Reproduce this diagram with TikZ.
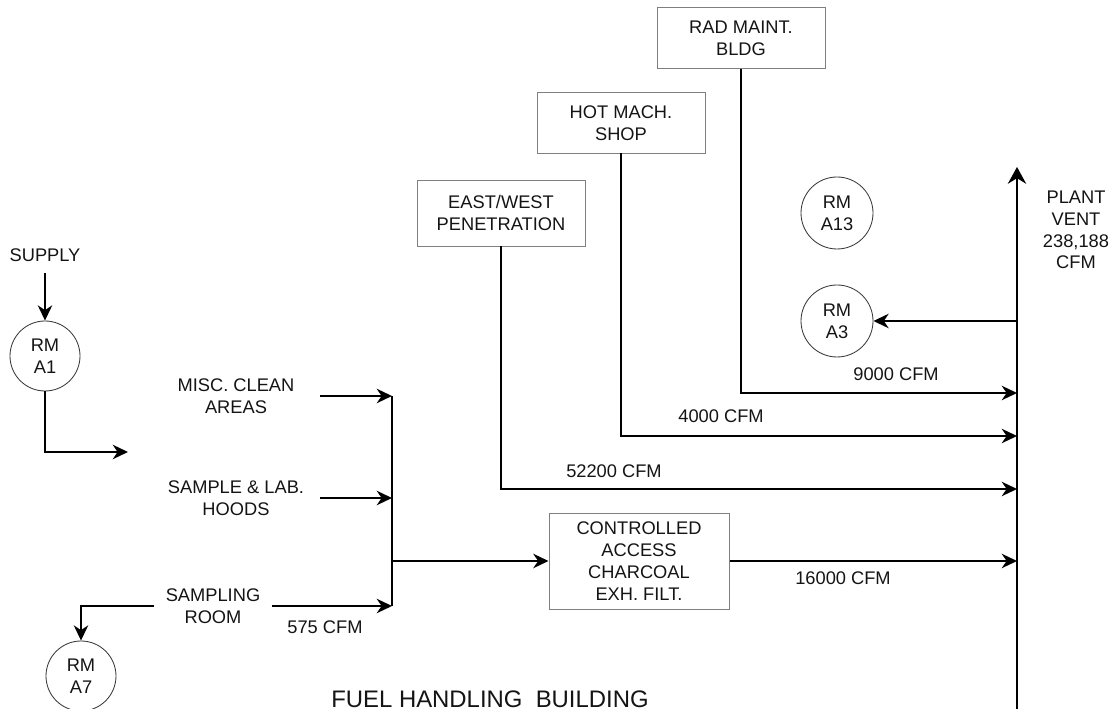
\documentclass[tikz,border=0pt]{standalone}
\usepackage{fontspec}
\setmainfont{Liberation Sans}
\usetikzlibrary{arrows.meta, positioning, calc}
\definecolor{boxgray}{HTML}{7F7F7F}
\definecolor{ringgray}{HTML}{3A3A3A}
\definecolor{inkblack}{HTML}{141414}

\begin{document}
\begin{tikzpicture}[>={Stealth[length=3.8mm, width=3.6mm, inset=1.2mm]}, line width=1.4pt,
  every node/.style={font=\fontsize{13}{15.5}\selectfont, text=inkblack, align=center},
  room/.style={rectangle, draw=boxgray, line width=0.7pt, minimum width=4.2cm, inner sep=2pt},
  rm/.style={circle, draw=ringgray, line width=0.6pt, minimum size=1.75cm, inner sep=0pt},
  duct/.style={->, draw=black}]

% Frame
\useasboundingbox (0,0) rectangle (27.825,17.725);

% Supply side
\node (supply) at (1.125,11.35) {SUPPLY};
\node[rm] (a1) at (1.125,8.825) {RM\\A1};
\coordinate (a1out) at (3.2,6.425);
\draw[duct, shorten <=4pt] (supply) -- (a1);
\draw[duct] (a1.south) |- (a1out);

% Fuel handling building exhausts
\node (misc) at (5.9,7.825) {MISC. CLEAN\\AREAS};
\node (lab) at (5.9,5.275) {SAMPLE \& LAB.\\HOODS};
\node (samp) at (5.325,2.575) {SAMPLING\\ROOM};
\node[rm] (a7) at (2.025,0.825) {RM\\A7};
\node (cfm575) at (8.125,2.05) {575 CFM};

% Collector
\coordinate (inlet) at (8.0,0);
\coordinate (colN) at (9.8,7.825);
\coordinate (colJ) at (9.8,3.7);
\coordinate (colS) at (9.8,2.575);
\draw (colN) -- (colS);
\draw[duct] (misc -| inlet) -- (misc -| colN);
\draw[duct] (lab -| inlet) -- (lab -| colN);
\draw[duct, shorten <=4pt] (samp.east) -- (samp -| colS);
\draw[duct, shorten <=4pt] (samp.west) -| (a7.north);

% Charcoal filter
\node[room, minimum width=4.5cm, minimum height=2.4cm] (cac) at (15.975,3.7) {CONTROLLED\\ACCESS\\CHARCOAL\\EXH. FILT.};
\draw[duct] (colJ) -- (cac.west);

% Plant vent
\coordinate (ventB) at (25.425,0);
\coordinate (ventT) at (25.425,13.55);
\draw[duct, >={Stealth[length=4.2mm, width=4.6mm, inset=1.4mm]}] (ventB) -- (ventT);
\node (vent) at (26.9,11.975) {PLANT\\VENT\\238,188\\CFM};
\draw[duct] (cac.east) -- (cac -| ventB);
\node (cfm16000) at (21.075,3.275) {16000 CFM};

% Other buildings
\node[room, minimum height=1.65cm] (ew) at (12.525,12.4) {EAST/WEST\\PENETRATION};
\node[room, minimum height=1.5cm] (hms) at (15.525,14.65) {HOT MACH.\\SHOP};
\node[room, minimum height=1.525cm] (rmb) at (18.525,16.7625) {RAD MAINT.\\BLDG};
\coordinate (ewin) at (25.425,5.5);
\coordinate (hmsin) at (25.425,6.825);
\coordinate (rmbin) at (25.425,7.9);
\draw[duct] (ew.south) |- (ewin);
\draw[duct] (hms.south) |- (hmsin);
\draw[duct] (rmb.south) |- (rmbin);
\node (cfm52200) at (15.35,5.95) {52200 CFM};
\node (cfm4000) at (18.025,7.325) {4000 CFM};
\node (cfm9000) at (22.4,8.375) {9000 CFM};

% Rooms near the vent
\node[rm, minimum size=1.8cm] (a13) at (20.925,12.4) {RM\\A13};
\node[rm, minimum size=1.8cm] (a3) at (20.925,9.7) {RM\\A3};
\draw[duct] (a3 -| ventB) -- (a3.east);

% Title
\node[font=\fontsize{17}{20}\selectfont, anchor=base] (fhb) at (12.25,0.03) {FUEL HANDLING\ \ BUILDING};

\end{tikzpicture}
\end{document}
